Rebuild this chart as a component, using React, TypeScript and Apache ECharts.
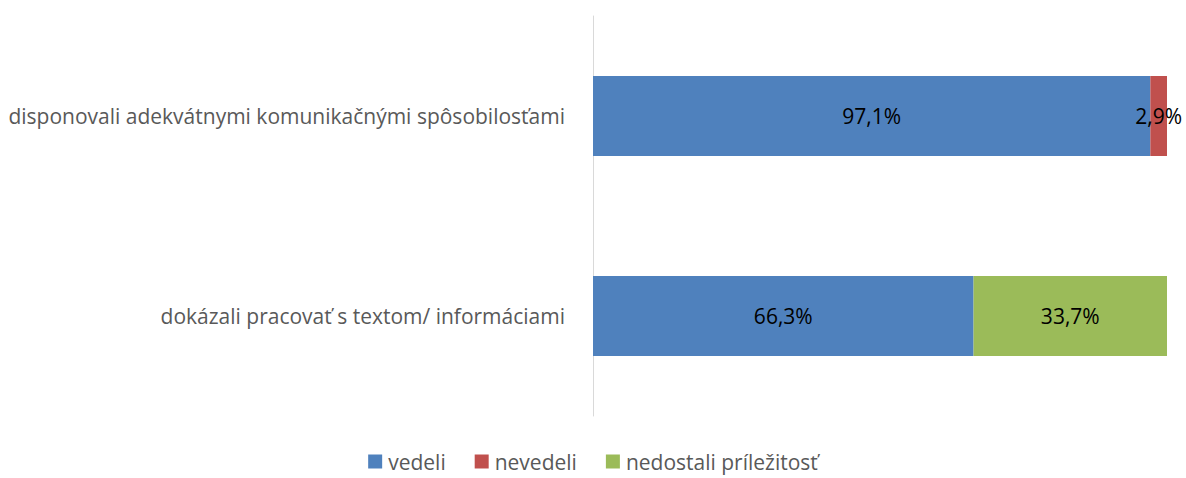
import React, { useEffect, useRef } from "react";
import * as echarts from "echarts";

const categories = [
  "disponovali adekvátnymi komunikačnými spôsobilosťami",
  "dokázali pracovať s textom/ informáciami",
];
const seriesNames = ["vedeli", "nevedeli", "nedostali príležitosť"];
const vedeli = [97.1, 66.3];
const nevedeli = [2.9, 0];
const nedostali = [0, 33.7];
const colors = ["#4F81BD", "#C0504D", "#9BBB59"];

export default function App() {
  const ref = useRef<HTMLDivElement>(null);
  useEffect(() => {
    if (!ref.current) return;
    const chart = echarts.init(ref.current, null, { renderer: "svg" });
    const font = "'Open Sans', sans-serif";
    const mk = (name: string, data: number[], i: number) => ({
      name,
      type: "bar",
      stack: "total",
      barWidth: 80,
      data: data.map((v) => (v > 0 ? v : null)),
      itemStyle: { color: colors[i] },
      label: {
        show: true,
        position: "inside",
        color: "#000",
        fontSize: 21,
        fontFamily: font,
        formatter: (p: any) => p.value.toFixed(1).replace(".", ",") + "%",
      },
    });
    chart.setOption({
      animation: false,
      textStyle: { fontFamily: font },
      grid: { left: 593, right: 19, top: 16, bottom: 62, containLabel: false },
      xAxis: {
        type: "value",
        min: 0,
        max: 100,
        show: false,
      },
      yAxis: {
        type: "category",
        data: categories,
        inverse: true,
        axisLine: { show: true, lineStyle: { color: "#D9D9D9", width: 1 } },
        axisTick: { show: false },
        axisLabel: { color: "#595959", fontSize: 21, margin: 28, fontFamily: font },
      },
      legend: {
        top: 446,
        left: "center",
        icon: "rect",
        itemWidth: 14,
        itemHeight: 14,
        itemGap: 29,
        itemStyle: { borderWidth: 0 },
        textStyle: { color: "#595959", fontSize: 21, fontFamily: font, padding: [0, 0, 0, 1] },
        data: seriesNames,
      },
      series: [
        mk(seriesNames[0], vedeli, 0),
        mk(seriesNames[1], nevedeli, 1),
        mk(seriesNames[2], nedostali, 2),
      ],
    });
    return () => chart.dispose();
  }, []);
  return (
    <div
      ref={ref}
      style={{ position: "fixed", left: 0, top: 0, width: 1186, height: 478, background: "#fff" }}
    />
  );
}
